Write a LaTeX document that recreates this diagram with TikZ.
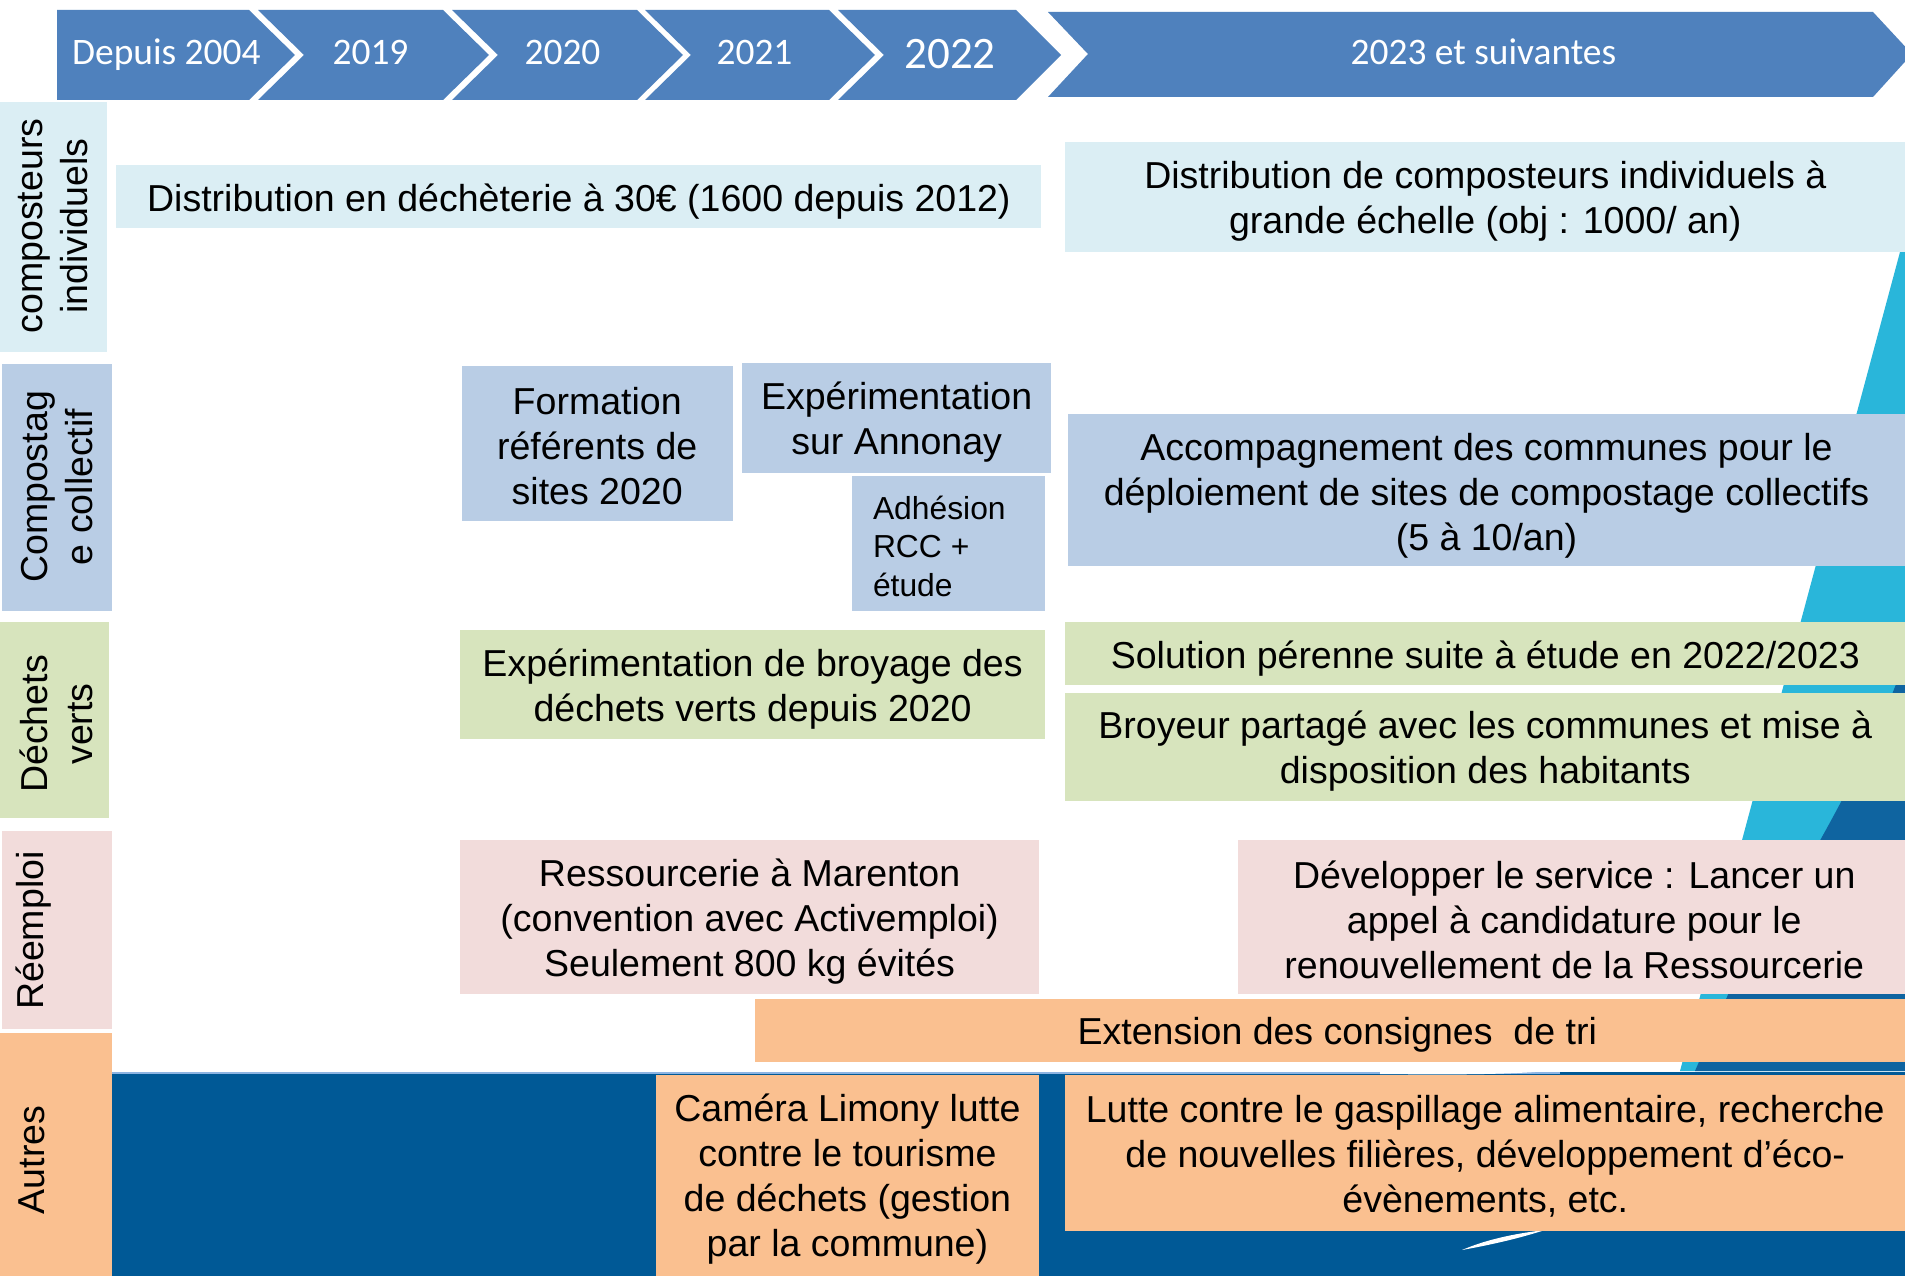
\documentclass[tikz,border=0pt]{standalone}
\usepackage{fontspec}
\setmainfont{Liberation Sans}
\newfontfamily\hdrfont{Carlito}
\definecolor{hdr}{HTML}{4F81BD}
\definecolor{lb}{HTML}{DBEEF4}
\definecolor{mb}{HTML}{B9CDE5}
\definecolor{gr}{HTML}{D7E4BD}
\definecolor{pk}{HTML}{F2DCDB}
\definecolor{orng}{HTML}{FAC090}
\definecolor{band}{HTML}{005996}
\definecolor{cyanbg}{HTML}{29B6DA}
\definecolor{darkbg}{HTML}{0F64A0}
\definecolor{bandline}{HTML}{8DB4E2}
\newcommand\txtsz{\fontsize{10.67}{12.8}\selectfont}
\newcommand\smalltxt{\fontsize{9.05}{10.9}\selectfont}
\newcommand\hdrsz{\hdrfont\fontsize{10.64}{12}\selectfont}
\newcommand\hdrbig{\hdrfont\fontsize{12.8}{14}\selectfont}
\begin{document}
\begin{tikzpicture}[x=0.01cm,y=-0.01cm,
  bx/.style={inner sep=0pt,outer sep=0pt},
  tx/.style={inner sep=0pt,outer sep=0pt,align=center,font=\txtsz,text=black},
  catlab/.style={rotate=90,align=center,font=\txtsz,inner sep=0pt,text=black},
  hdrtxt/.style={text=white,font=\hdrsz,anchor=base,inner sep=0pt},
  chev/.style={fill=hdr}]
\useasboundingbox (0,0) rectangle (1905,1276);
\clip (0,0) rectangle (1905,1276);
\fill[white] (0,0) rectangle (1905,1276);

% background decoration
\fill[cyanbg] (1905,205) -- (1900,252) -- (1680,1071) -- (1905,1071) -- cycle;
\fill[darkbg] (1905,660) .. controls (1870,760) and (1800,880) .. (1730,990) -- (1695,1071) -- (1905,1071) -- cycle;
\fill[band] (111.8,1071.5) rectangle (1905,1276);
\draw[bandline,line width=0.02cm] (111.8,1072.5) -- (1560,1072.5);
\fill[white] (1380,1071.5) .. controls (1480,1072) and (1570,1070) .. (1605,1060) .. controls (1570,1075) and (1480,1075) .. (1380,1074) -- cycle;
\fill[white] (1462,1250) .. controls (1490,1238) and (1520,1233) .. (1545,1230) .. controls (1520,1238) and (1495,1244) .. (1462,1250) -- cycle;

% header chevrons
\fill[chev] (57,10) -- (249,10) -- (295,55) -- (249,100) -- (57,100) -- cycle;
\fill[chev] (258,10) -- (443,10) -- (489,55) -- (443,100) -- (258,100) -- (304,55) -- cycle;
\fill[chev] (452,10) -- (637,10) -- (683,55) -- (637,100) -- (452,100) -- (498,55) -- cycle;
\fill[chev] (645,10) -- (829,10) -- (875,55) -- (829,100) -- (645,100) -- (691,55) -- cycle;
\fill[chev] (838,10) -- (1016,10) -- (1061,55) -- (1016,100) -- (838,100) -- (884,55) -- cycle;
\fill[chev] (1048,12) -- (1873,12) -- (1912,54) -- (1873,97) -- (1048,97) -- (1088,54) -- cycle;
\node[hdrtxt] (h1) at (166.4,64.5) {Depuis 2004};
\node[hdrtxt] (h2) at (370.5,64.5) {2019};
\node[hdrtxt] (h3) at (562.5,64.5) {2020};
\node[hdrtxt] (h4) at (754.5,64.5) {2021};
\node[hdrtxt,font=\hdrbig] (h5) at (950,68.5) {2022};
\node[hdrtxt] (h6) at (1483.4,64.5) {2023 et suivantes};

% category boxes
\node[bx,fill=lb,minimum width=1.07cm,minimum height=2.50cm] (k1) at (53.5,227) {};
\node[bx,fill=mb,minimum width=1.094cm,minimum height=2.465cm] (k2) at (57.1,487.8) {};
\node[bx,fill=gr,minimum width=1.09cm,minimum height=1.956cm] (k3) at (54.5,719.8) {};
\node[bx,fill=pk,minimum width=1.094cm,minimum height=1.98cm] (k4) at (57.1,930) {};
\node[bx,fill=orng,minimum width=1.118cm,minimum height=2.43cm] (k5) at (55.9,1154.5) {};
\node[catlab] (c1) at (53.5,226) {composteurs\\individuels};
\node[catlab] (c2) at (57,487) {Compostag\\e collectif};
\node[catlab] (c3) at (56,724) {Déchets\\verts};
\node[catlab] (c4) at (34,930.6) {Réemploi};
\node[catlab] (c5) at (31.6,1160) {Autres};

% content boxes
\node[bx,fill=lb,minimum width=9.246cm,minimum height=0.632cm] (distA) at (578.9,196.8) {};
\node[tx] (distAt) at ([yshift=-1.3pt]distA.center) {Distribution en déchèterie à 30€ (1600 depuis 2012)};
\node[bx,fill=lb,minimum width=8.395cm,minimum height=1.094cm] (distB) at (1485.3,196.8) {};
\node[tx] (distBt) at ([yshift=-1.3pt]distB.center) {Distribution de composteurs individuels à\\grande échelle (obj : 1000/ an)};
\node[bx,fill=mb,minimum width=2.709cm,minimum height=1.555cm] (form) at (597.2,443.5) {};
\node[tx] (formt) at ([yshift=-0.6pt]form.center) {Formation\\référents de\\sites 2020};
\node[bx,fill=mb,minimum width=3.086cm,minimum height=1.093cm] (expA) at (896.6,418) {};
\node[tx] (expAt) at ([yshift=-1.2pt]expA.center) {Expérimentation\\sur Annonay};
\node[bx,fill=mb,minimum width=1.932cm,minimum height=1.349cm] (adh) at (948.2,543.7) {};
\node[inner sep=0pt,align=left,font=\smalltxt,anchor=west] (adht) at (872.3,546.3) {Adhésion\\RCC +\\étude};
\node[bx,fill=mb,minimum width=8.371cm,minimum height=1.518cm] (acc) at (1486.5,490.2) {};
\node[tx] (acct) at ([yshift=-1.6pt]acc.center) {Accompagnement des communes pour le\\déploiement de sites de compostage collectifs\\(5 à 10/an)};
\node[bx,fill=gr,minimum width=5.844cm,minimum height=1.082cm] (broyA) at (752.6,684.6) {};
\node[tx] (broyAt) at ([yshift=-1.3pt]broyA.center) {Expérimentation de broyage des\\déchets verts depuis 2020};
\node[bx,fill=gr,minimum width=8.395cm,minimum height=0.632cm] (sol) at (1485.3,653.6) {};
\node[tx] (solt) at ([yshift=-1.3pt]sol.center) {Solution pérenne suite à étude en 2022/2023};
\node[bx,fill=gr,minimum width=8.395cm,minimum height=1.081cm] (broyB) at (1485.3,746.6) {};
\node[tx] (broyBt) at ([yshift=-1.3pt]broyB.center) {Broyeur partagé avec les communes et mise à\\disposition des habitants};
\node[bx,fill=pk,minimum width=5.783cm,minimum height=1.543cm] (ress) at (749.6,916.7) {};
\node[tx] (resst) at ([yshift=-1.3pt]ress.center) {Ressourcerie à Marenton\\(convention avec Activemploi)\\Seulement 800 kg évités};
\node[bx,fill=pk,minimum width=6.670cm,minimum height=1.543cm] (dev) at (1571.5,916.7) {};
\node[tx] (devt) at ([yshift=-0.8pt,xshift=0.8pt]dev.center) {Développer le service : Lancer un\\appel à candidature pour le\\renouvellement de la Ressourcerie};
\node[bx,fill=orng,minimum width=11.493cm,minimum height=0.632cm] (ext) at (1330.4,1030.2) {};
\node[tx,anchor=west] (extt) at ([yshift=-1.2pt]ext.center -| 1077.6,0) {Extension des consignes\ \ de tri};
\node[bx,fill=orng,minimum width=3.827cm,minimum height=2.008cm] (cam) at (847.4,1175.6) {};
\node[tx] (camt) at ([yshift=-0.9pt]cam.center) {Caméra Limony lutte\\contre le tourisme\\de déchets (gestion\\par la commune)};
\node[bx,fill=orng,minimum width=8.395cm,minimum height=1.555cm] (lutte) at (1485.3,1153) {};
\node[tx] (luttet) at ([yshift=-1.0pt]lutte.center) {Lutte contre le gaspillage alimentaire, recherche\\de nouvelles filières, développement d'éco-\\évènements, etc.};
\end{tikzpicture}
\end{document}
